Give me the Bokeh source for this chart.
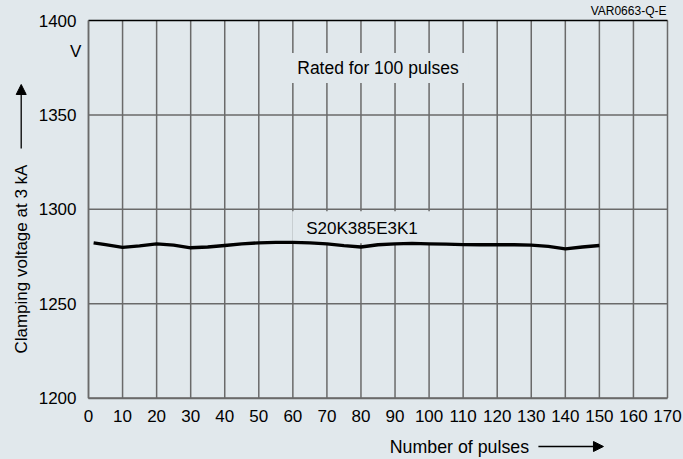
import math
from bokeh.plotting import figure
from bokeh.models import Label, Arrow, NormalHead, FixedTicker, Range1d, LinearAxis
from bokeh.embed import file_html
from bokeh.resources import INLINE

# ---- data ----
pulses = [1.5, 5, 10, 15, 20, 25, 30, 35, 40, 45, 50, 55, 60, 65, 70, 75,
          80, 85, 90, 95, 100, 105, 110, 115, 120, 125, 130, 135, 140, 145, 150]
voltage = [1282.2, 1281.2, 1279.8, 1280.6, 1281.7, 1281.0, 1279.6, 1280.0, 1280.8,
           1281.7, 1282.2, 1282.5, 1282.5, 1282.2, 1281.7, 1280.7,
           1280.0, 1281.2, 1281.7, 1281.9, 1281.7, 1281.5, 1281.3, 1281.2, 1281.2,
           1281.2, 1281.0, 1280.3, 1279.0, 1280.0, 1280.8]
x_ticks = list(range(0, 171, 10))
y_ticks = [1200, 1250, 1300, 1350, 1400]
series_label = "S20K385E3K1"
note_label = "Rated for 100 pulses"
x_title = "Number of pulses"
y_title = "Clamping voltage at 3 kA"
unit_label = "V"
code_label = "VAR0663-Q-E"

BG = "#e1e8ec"
GRID = "#6a6a6a"
FONT = "Liberation Sans"

x_lo, x_hi = x_ticks[0], x_ticks[-1]
y_lo, y_hi = y_ticks[0], y_ticks[-1]

# the frame covers the whole canvas; the chart box sits inside it
p = figure(width=683, height=459, output_backend="svg", toolbar_location=None,
           x_range=Range1d(-25.84, 174.70), y_range=Range1d(1167.42, 1410.60),
           x_axis_type=None, y_axis_type=None, min_border=0)
p.background_fill_color = BG
p.border_fill_color = BG
p.outline_line_color = None
p.grid.visible = False

# grid lines (from the tick lists)
p.segment(x0=x_ticks, x1=x_ticks, y0=[y_lo] * len(x_ticks), y1=[y_hi] * len(x_ticks),
          line_color=GRID, line_width=1.5)
p.segment(x0=[x_lo] * len(y_ticks[:-1]), x1=[x_hi] * len(y_ticks[:-1]),
          y0=y_ticks[:-1], y1=y_ticks[:-1], line_color=GRID, line_width=1.5)
p.segment(x0=[x_lo], x1=[x_hi], y0=[y_hi], y1=[y_hi], line_color="black", line_width=1.5)

# axes
yax = LinearAxis(fixed_location=x_lo, bounds=(y_lo, y_hi), ticker=FixedTicker(ticks=y_ticks))
xax = LinearAxis(fixed_location=y_lo, bounds=(x_lo, x_hi), ticker=FixedTicker(ticks=x_ticks))
for ax in (xax, yax):
    ax.major_tick_line_color = None
    ax.minor_tick_line_color = None
    ax.axis_line_color = GRID
    ax.axis_line_width = 1.5
    ax.major_label_text_font = FONT
    ax.major_label_text_font_size = "17px"
    ax.major_label_text_color = "black"
    ax.major_label_standoff = 6
p.add_layout(yax, "left")
p.add_layout(xax, "below")

curve = p.line(pulses, voltage, line_color="black", line_width=3.3, line_join="round")
curve.level = "overlay"

def lab(x, y, text, size="17px", align="center", baseline="middle", angle=0.0, bg=None, pad=None):
    kw = {}
    if bg is not None:
        kw["background_fill_color"] = bg
    if pad is not None:
        kw["padding"] = pad
    l = Label(x=x, y=y, text=text, text_font=FONT, text_font_size=size,
              text_align=align, text_baseline=baseline, text_color="black",
              angle=angle, **kw)
    p.add_layout(l)

lab(85.0, 1374.8, note_label, size="17.5px", bg=BG, pad=dict(left=10, right=10, top=5, bottom=5))
lab(80.3, 1290.5, series_label, bg=BG, pad=dict(left=14, right=14, top=8, bottom=5))
lab(-2.1, 1383.6, unit_label, align="right")
lab(169.7, 1404.8, code_label, size="12px", align="right")
lab(108.9, 1174.3, x_title, size="17.8px")
lab(-19.7, 1273.6, y_title, angle=math.pi / 2)

p.add_layout(Arrow(end=NormalHead(size=10, fill_color="black", line_color="black"),
                   x_start=-19.76, y_start=1332.2, x_end=-19.76, y_end=1366.1,
                   line_color="black", line_width=1.3))
p.add_layout(Arrow(end=NormalHead(size=10, fill_color="black", line_color="black"),
                   x_start=132.1, y_start=1174.3, x_end=151.2, y_end=1174.3,
                   line_color="black", line_width=1.3))

html = file_html(p, INLINE)
css = "<style>html,body{margin:0;padding:0;overflow:hidden;background-color:%s;}</style>" % BG
html = html.replace("</head>", css + "</head>", 1)
open("out.html", "w").write(html)
